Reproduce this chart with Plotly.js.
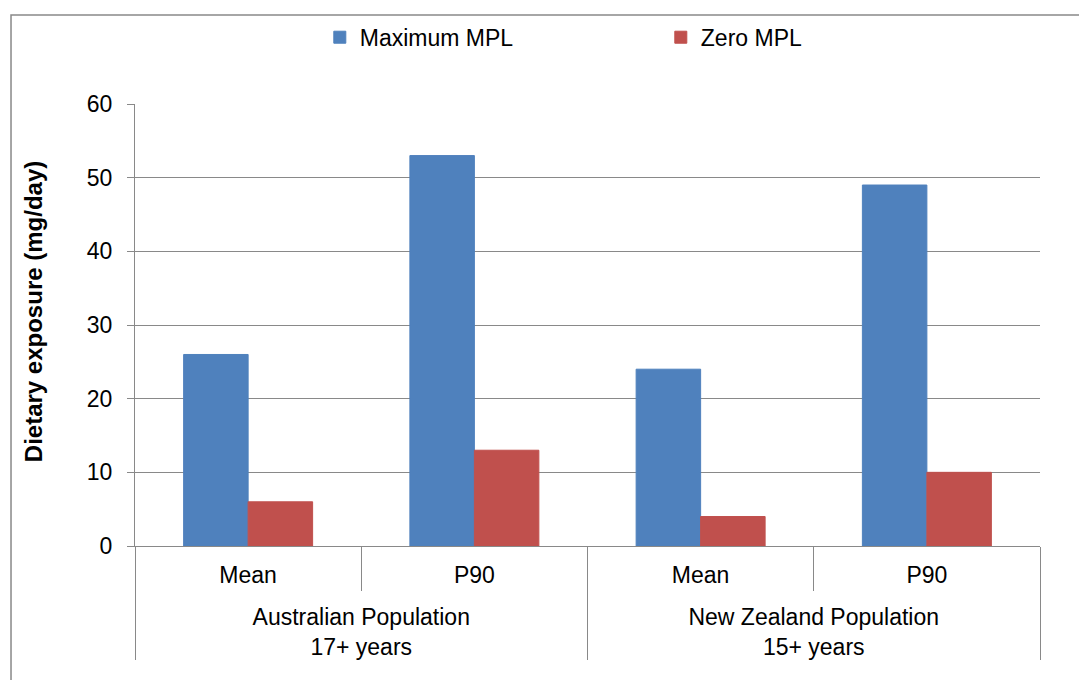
<!DOCTYPE html>
<html>
<head>
<meta charset="utf-8">
<script src="https://cdn.plot.ly/plotly-3.0.1.min.js"></script>
<style>
  html, body { margin: 0; padding: 0; background: #ffffff; }
  #chart { width: 1079px; height: 680px; }
</style>
</head>
<body>
<div id="chart"></div>
<script>
// Population groups (outer level) and statistics (inner level) of the x axis
const populations = [
  "Australian Population<br>17+ years",
  "Australian Population<br>17+ years",
  "New Zealand Population<br>15+ years",
  "New Zealand Population<br>15+ years"
];
const statistics = ["Mean", "P90", "Mean", "P90"];

// Dietary exposure (mg/day) for each scenario
const maximumMPL = [26, 53, 24, 49];
const zeroMPL = [6, 13, 4, 10];

const seriesNames = ["Maximum MPL", "Zero MPL"];
const yTitle = "Dietary exposure (mg/day)";

const FONT = "Liberation Sans, Arial, sans-serif";
const GREY = "#898989";
const BLUE = "#4F81BD";
const RED = "#C0504D";

// Taller invisible spacers around the inner labels leave more room
// between the statistic row and the population row.
const SPACER = "<span style='font-size:43px'> </span>";
const innerLabels = statistics.map(s => SPACER + s + SPACER);
const xCats = [populations, innerLabels];

const traces = [
  {
    type: "bar",
    name: seriesNames[0],
    x: xCats,
    y: maximumMPL,
    marker: { color: BLUE, line: { color: BLUE, width: 1 } },
    hoverinfo: "y+name"
  },
  {
    type: "bar",
    name: seriesNames[1],
    x: xCats,
    y: zeroMPL,
    marker: { color: RED, line: { color: RED, width: 1 } },
    hoverinfo: "y+name"
  }
];

const layout = {
  width: 1079,
  height: 680,
  margin: { l: 135, r: 39, t: 104, b: 134 },
  paper_bgcolor: "#ffffff",
  plot_bgcolor: "#ffffff",
  font: { family: FONT, size: 23, color: "#000000" },
  barmode: "group",
  bargap: 0.43,
  bargroupgap: 0,
  showlegend: true,
  legend: {
    orientation: "h",
    x: 0.2042,
    xanchor: "left",
    y: 1.151,
    yanchor: "middle",
    entrywidth: 296,
    entrywidthmode: "pixels",
    font: { family: FONT, size: 23, color: "#000000" },
    bgcolor: "rgba(0,0,0,0)"
  },
  xaxis: {
    type: "multicategory",
    showline: true,
    linecolor: GREY,
    linewidth: 1,
    ticks: "outside",
    tickson: "boundaries",
    ticklen: 44,
    tickcolor: GREY,
    tickwidth: 1,
    ticklabelstandoff: 8,
    showdividers: true,
    dividercolor: GREY,
    dividerwidth: 1,
    showgrid: false,
    zeroline: false,
    tickfont: { family: FONT, size: 23, color: "#000000" }
  },
  yaxis: {
    range: [0, 60],
    dtick: 10,
    showgrid: true,
    gridcolor: GREY,
    gridwidth: 1,
    showline: true,
    linecolor: GREY,
    linewidth: 1,
    ticks: "outside",
    ticklen: 7,
    tickcolor: GREY,
    zeroline: false,
    ticklabelstandoff: 10,
    tickfont: { family: FONT, size: 23, color: "#000000" }
  },
  annotations: [
    {
      text: "<b>" + yTitle + "</b>",
      xref: "paper",
      yref: "paper",
      x: -0.1127,
      y: 0.529,
      xanchor: "center",
      yanchor: "middle",
      textangle: -90,
      showarrow: false,
      font: { family: FONT, size: 24, color: "#000000" }
    }
  ],
  shapes: [
    {
      type: "rect",
      xref: "paper",
      yref: "paper",
      x0: -0.137,
      x1: 1.2,
      y0: -0.6,
      y1: 1.2014,
      line: { color: GREY, width: 1.5 },
      fillcolor: "rgba(0,0,0,0)",
      layer: "below"
    }
  ]
};

Plotly.newPlot("chart", traces, layout, { displayModeBar: false, staticPlot: true });
</script>
</body>
</html>
